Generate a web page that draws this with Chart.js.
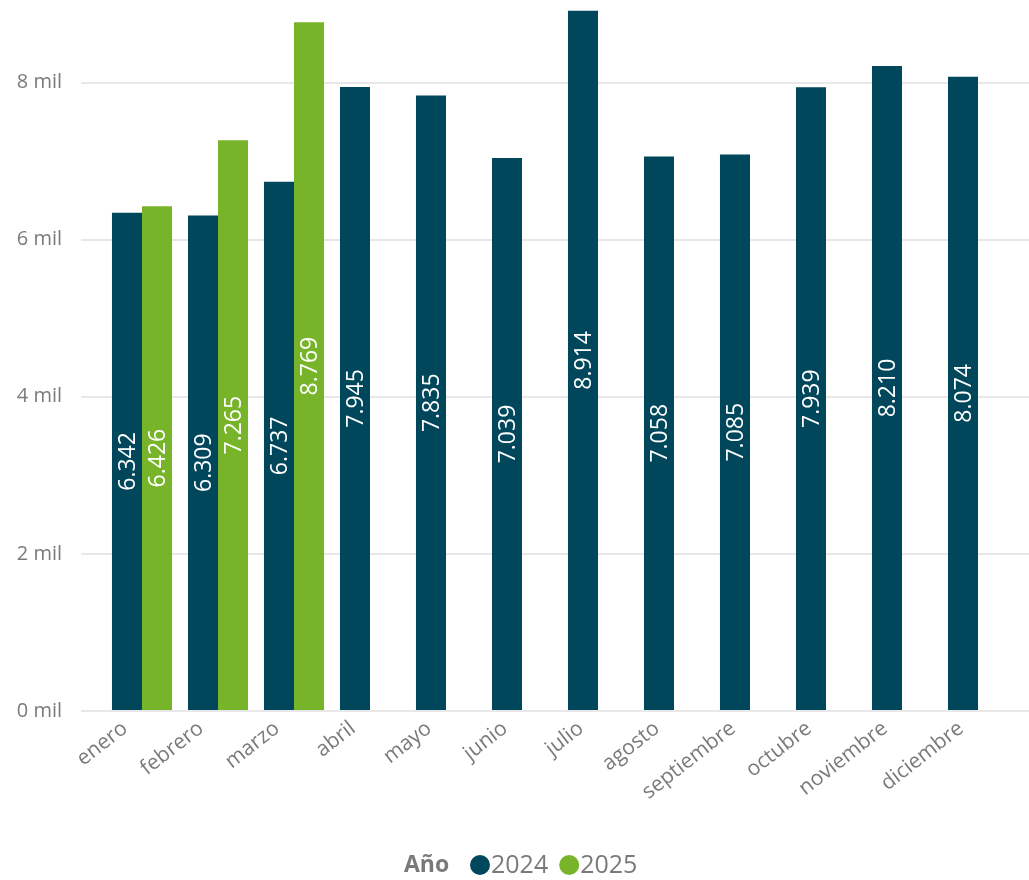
<!DOCTYPE html>
<html>
<head>
<meta charset="utf-8">
<script src="https://cdn.jsdelivr.net/npm/chart.js@4.4.1/dist/chart.umd.min.js"></script>
<style>
  html, body { margin: 0; padding: 0; background: #fff; }
  #wrap { width: 1029px; height: 880px; position: relative; }
</style>
</head>
<body>
<div id="wrap"><canvas id="chart"></canvas></div>
<script>
// datos
const meses = ['enero', 'febrero', 'marzo', 'abril', 'mayo', 'junio', 'julio', 'agosto', 'septiembre', 'octubre', 'noviembre', 'diciembre'];
const valores2024 = [6342, 6309, 6737, 7945, 7835, 7039, 8914, 7058, 7085, 7939, 8210, 8074];
const valores2025 = [6426, 7265, 8769, null, null, null, null, null, null, null, null, null];
const anios = ['2024', '2025'];
const colores = ['#01475b', '#78b42a'];
const ticksY = [0, 2000, 4000, 6000, 8000];

const fuente = "'Open Sans', 'Noto Sans', sans-serif";
const gris = '#7a7a7a';
const colorGrid = '#e8e8e8';

function formatoMiles(v) {
    return String(v).replace(/\B(?=(\d{3})+(?!\d))/g, '.');
}

// alarga las lineas de la cuadricula hasta el borde derecho
const gridDerecha = {
    id: 'gridDerecha',
    beforeDatasetsDraw(chart) {
        const ctx = chart.ctx;
        const yScale = chart.scales.y;
        ctx.save();
        ctx.strokeStyle = colorGrid;
        ctx.lineWidth = 2;
        ticksY.forEach(v => {
            const y = Math.round(yScale.getPixelForValue(v));
            ctx.beginPath();
            ctx.moveTo(chart.chartArea.right, y);
            ctx.lineTo(chart.width, y);
            ctx.stroke();
        });
        ctx.restore();
    }
};

// etiquetas verticales dentro de las barras
const etiquetasBarras = {
    id: 'etiquetasBarras',
    afterDatasetsDraw(chart) {
        const ctx = chart.ctx;
        ctx.save();
        ctx.fillStyle = '#ffffff';
        ctx.font = '23px ' + fuente;
        ctx.textAlign = 'center';
        ctx.textBaseline = 'middle';
        chart.data.datasets.forEach((ds, i) => {
            const meta = chart.getDatasetMeta(i);
            meta.data.forEach((bar, j) => {
                if (ds.data[j] == null) return;
                const yMid = (bar.y + bar.base) / 2;
                ctx.save();
                ctx.translate(bar.x, yMid);
                ctx.rotate(-Math.PI / 2);
                ctx.fillText(formatoMiles(ds.data[j]), 0, 1);
                ctx.restore();
            });
        });
        ctx.restore();
    }
};

// leyenda con titulo "Año"
const leyenda = {
    id: 'leyendaAnio',
    afterDraw(chart) {
        const ctx = chart.ctx;
        const y = 865;
        ctx.save();
        ctx.textBaseline = 'middle';
        ctx.textAlign = 'left';
        ctx.font = 'bold 23px ' + fuente;
        ctx.fillStyle = gris;
        ctx.fillText('Año', 404, y);
        let x = 470;
        ctx.font = '25px ' + fuente;
        anios.forEach((a, i) => {
            ctx.beginPath();
            ctx.fillStyle = colores[i];
            ctx.arc(x + 10, y, 10, 0, Math.PI * 2);
            ctx.fill();
            ctx.fillStyle = gris;
            ctx.fillText(a, x + 21, y + 1);
            x += 21 + ctx.measureText(a).width + 11;
        });
        ctx.restore();
    }
};

const config = {
    type: 'bar',
    data: {
        labels: meses,
        datasets: [
            { label: anios[0], data: valores2024, backgroundColor: colores[0] },
            { label: anios[1], data: valores2025, backgroundColor: colores[1] }
        ]
    },
    options: {
        responsive: true,
        maintainAspectRatio: false,
        animation: false,
        categoryPercentage: 0.79,
        barPercentage: 1,
        layout: { padding: { left: 0, right: 13, top: 4, bottom: 0 } },
        plugins: {
            legend: { display: false },
            tooltip: { enabled: false }
        },
        scales: {
            x: {
                grid: { display: false },
                border: { display: false },
                ticks: {
                    color: gris,
                    font: { family: fuente, size: 21 },
                    minRotation: 38,
                    maxRotation: 38,
                    labelOffset: -17,
                    padding: -3
                },
                afterFit(axis) {
                    axis.height = 169;
                    axis.paddingLeft = 0;
                    axis.paddingRight = 0;
                }
            },
            y: {
                min: 0,
                max: 9000,
                afterBuildTicks(axis) {
                    axis.ticks = ticksY.map(v => ({ value: v }));
                },
                grid: { color: colorGrid, lineWidth: 2, tickLength: 23, tickColor: colorGrid },
                border: { display: false },
                ticks: {
                    color: gris,
                    font: { family: fuente, size: 20 },
                    padding: 19,
                    callback: v => (v / 1000) + ' mil'
                },
                afterFit(axis) {
                    axis.width = 104;
                    axis.paddingTop = 0;
                    axis.paddingBottom = 0;
                }
            }
        }
    },
    plugins: [gridDerecha, etiquetasBarras, leyenda]
};

const ctx = document.getElementById('chart').getContext('2d');
const myChart = new Chart(ctx, config);
</script>
</body>
</html>
